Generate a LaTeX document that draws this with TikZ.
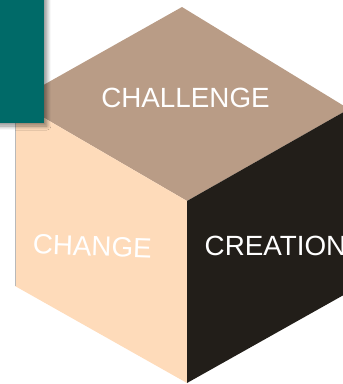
\documentclass[tikz,border=0pt]{standalone}
\usepackage{fontspec}
\setmainfont{Liberation Sans}
\usetikzlibrary{shadows.blur}

\definecolor{tealbox}{HTML}{006A68}
\definecolor{topface}{HTML}{B99C86}
\definecolor{leftface}{HTML}{FEDBBA}
\definecolor{rightface}{HTML}{221E19}

\tikzset{
  face/.style={draw=none},
  facelabel/.style={text=white, font=\fontsize{27.8}{30}\selectfont, inner sep=0pt},
  tab/.style={fill=tealbox, draw=none,
    blur shadow={shadow xshift=3pt, shadow yshift=-3pt,
                 shadow blur radius=4pt, shadow blur steps=10, shadow opacity=45}}
}

\begin{document}
\begin{tikzpicture}[x=1pt, y=-1pt]
  \useasboundingbox (0,0) rectangle (343,384);
  \clip (0,0) rectangle (343,384);

  % cube corners
  \coordinate (T)  at (182,7);
  \coordinate (L)  at (15,101);
  \coordinate (C)  at (187,201);
  \coordinate (R)  at (349,109);
  \coordinate (LB) at (15,286);
  \coordinate (B)  at (187,383);
  \coordinate (RB) at (349,292);

  % faces
  \fill[face, topface]   (T) -- (L) -- (C) -- (R) -- cycle;
  \fill[face, leftface]  (L) -- (LB) -- (B) -- (C) -- cycle;
  \fill[face, rightface] (C) -- (B) -- (RB) -- (R) -- cycle;
  \draw[gray!55, line width=0.7pt] (L) -- (LB);

  % face labels
  \node[facelabel, anchor=base] (challenge) at (185.5,107) {CHALLENGE};
  \node[facelabel, anchor=base, rotate=-2] (change) at (92,256) {CHANGE};
  \node[facelabel, anchor=base west] (creation) at (204.5,255) {CREATION};

  % corner tab
  \path[tab] (-20,-20) rectangle (44,123);
\end{tikzpicture}
\end{document}
